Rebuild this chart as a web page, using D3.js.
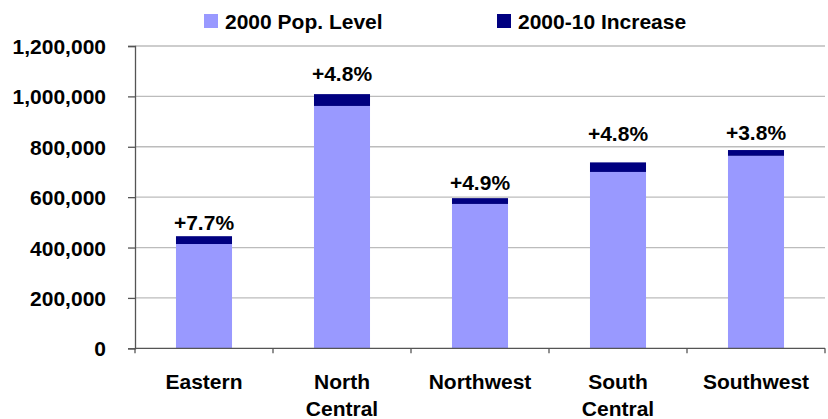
<!DOCTYPE html>
<html>
<head>
<meta charset="utf-8">
<script src="https://cdn.jsdelivr.net/npm/d3@7"></script>
<style>
  html, body { margin: 0; padding: 0; background: #fff; }
  svg { display: block; }
  text { font-family: "Liberation Sans", Arial, Helvetica, sans-serif; font-weight: bold; fill: #000; }
</style>
</head>
<body>
<script>
// ---- data ----
const categories = ["Eastern", "North Central", "Northwest", "South Central", "Southwest"];
const pop2000 = [414000, 962000, 573000, 700000, 764000];
const increase = [31000, 47000, 23000, 38000, 23000];
const pctLabels = ["+7.7%", "+4.8%", "+4.9%", "+4.8%", "+3.8%"];
const yTicks = [0, 200000, 400000, 600000, 800000, 1000000, 1200000];
const seriesNames = ["2000 Pop. Level", "2000-10 Increase"];

// ---- styling ----
const colors = ["#9999ff", "#000080"];
const labelLift = [6, 13, 8, 21, 10];
const W = 828, H = 419;
const m = { left: 135, right: 3, top: 46, bottom: 71 };

const svg = d3.select("body").append("svg").attr("width", W).attr("height", H);

const x = d3.scaleBand().domain(categories)
  .range([m.left, W - m.right]).paddingInner(0.594).paddingOuter(0.297);
const y = d3.scaleLinear().domain([0, 1200000]).range([H - m.bottom + 0.3, m.top]);

// gridlines
svg.append("g").selectAll("line").data(yTicks.filter(d => d > 0)).join("line")
  .attr("x1", m.left).attr("x2", W - m.right)
  .attr("y1", d => y(d)).attr("y2", d => y(d))
  .attr("stroke", "#bcbcbc").attr("stroke-width", 1.3);

// bars
const stack = d3.stack().keys([0, 1]).value((d, k) => d[k]);
const rows = categories.map((c, i) => ({ 0: pop2000[i], 1: increase[i], cat: c }));
const series = stack(rows);
svg.append("g").selectAll("g").data(series).join("g")
  .attr("fill", (d, i) => colors[i])
  .selectAll("rect").data(d => d).join("rect")
  .attr("x", d => x(d.data.cat))
  .attr("width", x.bandwidth())
  .attr("y", d => y(d[1]))
  .attr("height", d => y(d[0]) - y(d[1]));

// y axis
const yAxis = d3.axisLeft(y).tickValues(yTicks).tickFormat(d3.format(",")).tickSize(7).tickPadding(22);
const gy = svg.append("g").attr("transform", `translate(${m.left},0)`).call(yAxis);
gy.select(".domain").attr("stroke", "#555").attr("stroke-width", 1.3);
gy.selectAll(".tick line").attr("stroke", "#555").attr("stroke-width", 1.3);
gy.selectAll(".tick text").attr("font-size", 21).attr("font-family", null).attr("dy", "0.36em");

// x axis
const y0 = y(0);
svg.append("line").attr("x1", m.left).attr("x2", W - m.right).attr("y1", y0).attr("y2", y0)
  .attr("stroke", "#555").attr("stroke-width", 1.3);
const boundaries = categories.map(c => x(c) + x.bandwidth() / 2 - x.step() / 2)
  .concat([x(categories[categories.length - 1]) + x.bandwidth() / 2 + x.step() / 2]);
svg.append("g").selectAll("line").data(boundaries).join("line")
  .attr("x1", d => d).attr("x2", d => d).attr("y1", y0).attr("y2", y0 + 5)
  .attr("stroke", "#555").attr("stroke-width", 1.3);

const catText = svg.append("g").selectAll("text").data(categories).join("text")
  .attr("x", d => x(d) + x.bandwidth() / 2)
  .attr("y", 389)
  .attr("text-anchor", "middle")
  .attr("font-size", 21);
catText.each(function(d) {
  const words = d.split(" ");
  const t = d3.select(this);
  words.forEach((w, i) => {
    t.append("tspan").attr("x", x(d) + x.bandwidth() / 2).attr("dy", i === 0 ? 0 : 27).text(w);
  });
});

// percentage labels
svg.append("g").selectAll("text").data(categories).join("text")
  .attr("x", d => x(d) + x.bandwidth() / 2)
  .attr("y", (d, i) => y(pop2000[i] + increase[i]) - labelLift[i])
  .attr("text-anchor", "middle")
  .attr("font-size", 21)
  .text((d, i) => pctLabels[i]);

// legend
const legX = [204, 497];
const lg = svg.append("g");
seriesNames.forEach((n, i) => {
  lg.append("rect").attr("x", legX[i]).attr("y", 14).attr("width", 14).attr("height", 14).attr("fill", colors[i]);
  lg.append("text").attr("x", legX[i] + 21).attr("y", 28.5).attr("font-size", 21).text(n);
});
</script>
</body>
</html>
